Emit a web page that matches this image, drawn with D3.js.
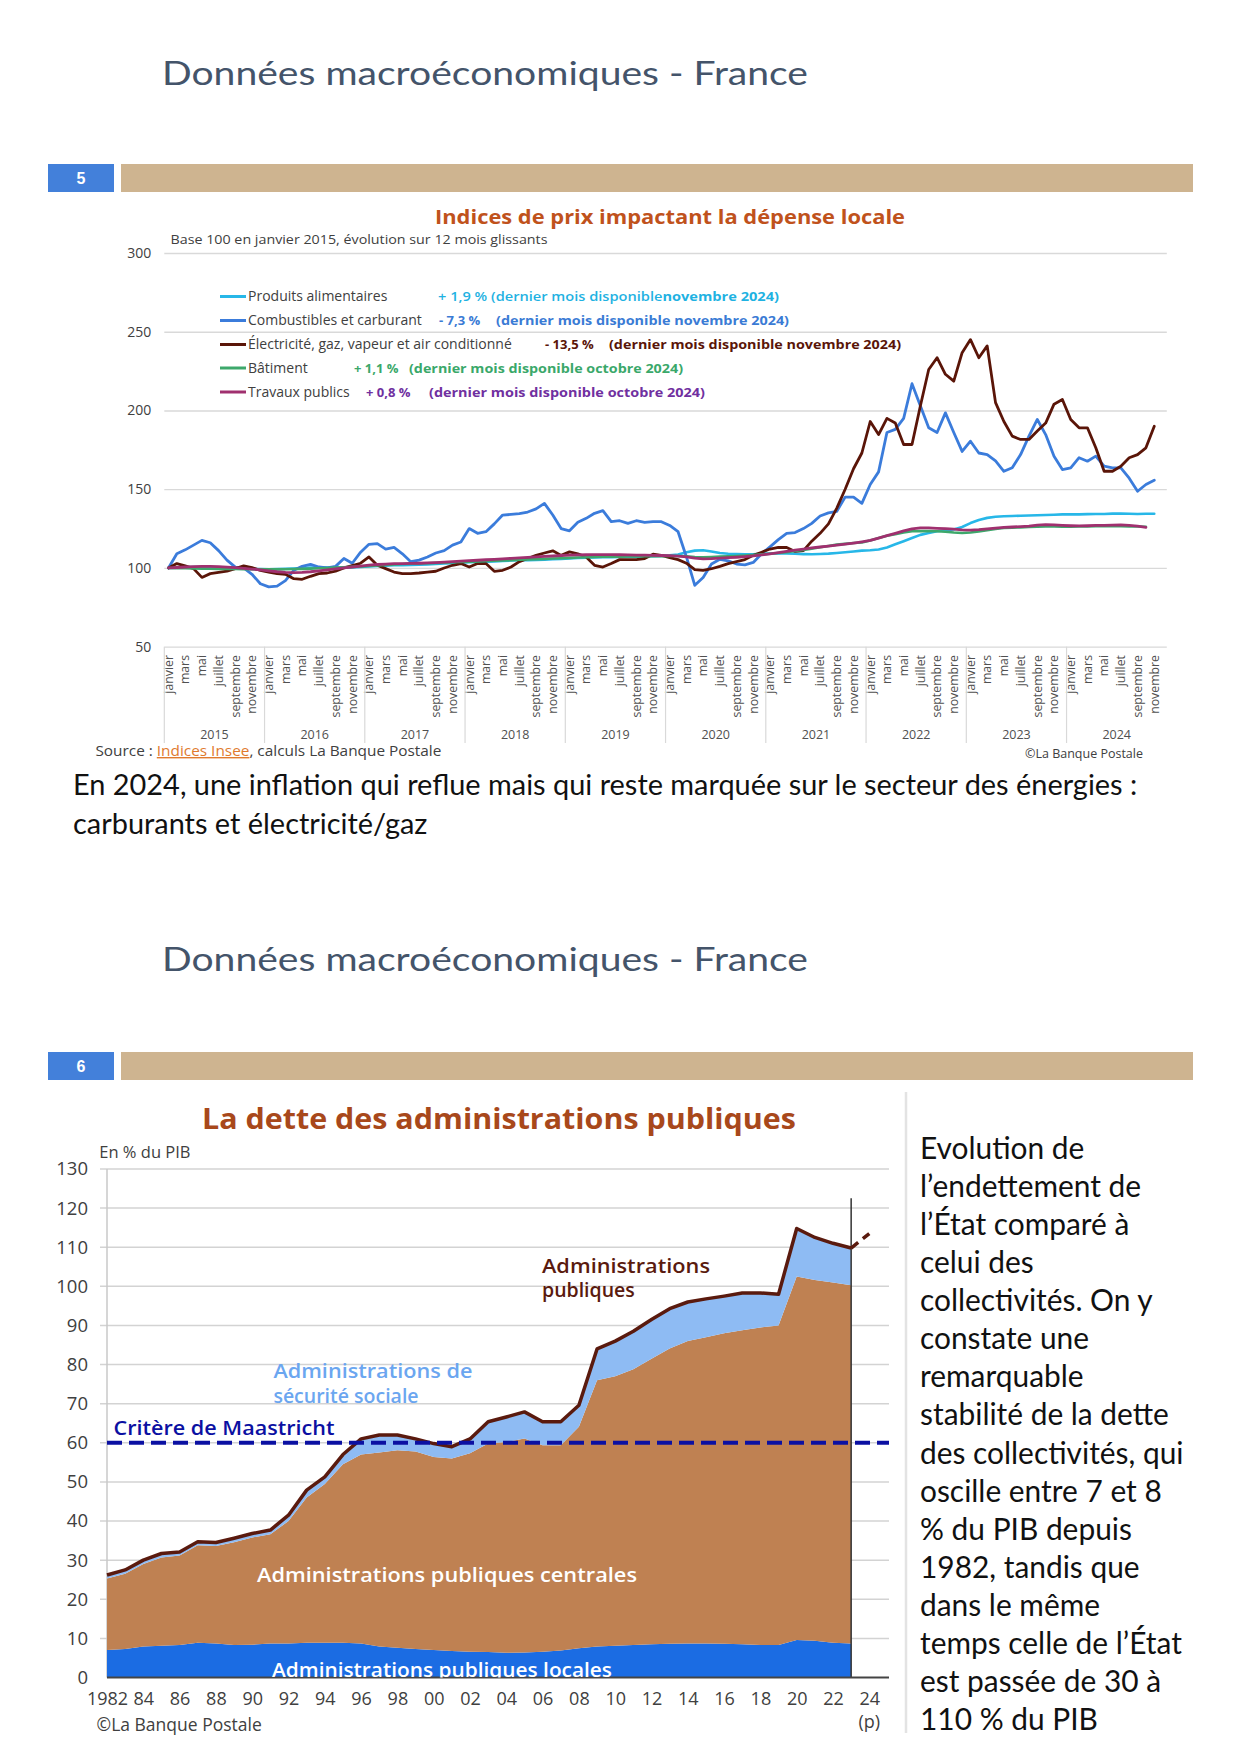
<!DOCTYPE html>
<html><head><meta charset="utf-8">
<script src="https://cdn.jsdelivr.net/npm/d3@7"></script>
<style>
html,body{margin:0;padding:0;background:#fff;}
svg{display:block;}
</style></head><body>
<svg id="page" width="1240" height="1754"></svg>
<script>
// ---------------- DATA : chart 1 (monthly indices, base 100 = janvier 2015) ----------------
const monthNames = ['janvier','février','mars','avril','mai','juin','juillet','août','septembre','octobre','novembre','décembre'];
const years1 = [2015,2016,2017,2018,2019,2020,2021,2022,2023,2024];
const yTicks1 = [50,100,150,200,250,300];

const produitsAlimentaires = [
  100,100.2,100.4,100.5,100.5,100.3,100,99.8,99.6,99.5,99.4,99.3,
  99.2,99.3,99.5,99.7,100,100.2,100.3,100.2,100.1,100.2,100.4,100.7,
  101,101.3,101.5,101.7,101.8,101.9,102,102.2,102.5,102.8,103,103.3,
  103.6,103.8,104,104.2,104.5,104.7,104.9,105,105.1,105.3,105.5,105.7,
  106,106.3,106.5,106.6,106.8,106.9,107,107.1,107.2,107.3,107.5,107.7,
  108,108.5,110,111,111.2,110.5,109.5,109,108.8,108.6,108.7,109,
  109.2,109.3,109.2,109,108.8,108.7,108.9,109.1,109.5,110,110.5,111,
  111.2,111.7,113,115,117,119,121,122.2,123.3,124,124.4,126,
  128.5,130.5,131.8,132.5,132.8,133,133.2,133.3,133.5,133.6,133.8,134,
  134,134,134.2,134.3,134.3,134.5,134.6,134.4,134.3,134.4,134.4
];
const combustibles = [
  100,109,111.5,114.5,117.5,116,111,105,100.5,100,96,90,
  88,88.5,92,98.5,101,102.3,100.6,100,101,106,103,110,
  115,115.5,112,113,109,104,105,107,109.5,111,114.5,116.5,
  125,122,123,128,133.6,134,134.5,135.5,137.5,141,133.6,125,
  123.6,129,131.5,134.7,136.4,129.4,130,128.3,130,129,129.4,129.4,
  127,123,107,89,94,102.5,105.5,104.5,102.5,102,103.5,109,
  113.4,118,122,122.5,125,128.3,133,135,136,145,145,141,
  153,161,186,188,195,217,203,189,186,198.5,186,174,
  180.5,173,172,168,161.4,163.6,172,183.7,194.3,184.7,171,162.5,
  163.6,170,167.8,171,164.6,163.6,163.6,157,148.7,153,155.7
];
const electricite = [
  100,102.8,101.3,99.6,94,96.4,97.2,98,99.6,101.3,100.2,98.5,
  97.4,96.4,96,93.2,92.8,94.7,96.4,96.8,98,100,101.5,103,
  107,101.7,99.6,97.4,96.4,96.4,96.8,97.4,97.9,100,101.7,102.8,
  100.6,102.8,102.8,97.9,98.5,100.6,104,106,108,109.5,110.9,108,
  110.2,109,107,101.7,100.6,102.8,105.3,105.3,105.3,106,108.7,108,
  106.5,105.3,103,99,98.5,99.5,101,102.8,104,105.3,108,110,
  112,113,113,110.5,111,117,122,128,138,150,163,173,
  193,184.7,195,192,178.4,178.4,202.8,226,233.5,223,218.6,236.7,
  245,233.5,241,205,193,183.7,181.6,181.6,187,192,204,207,
  194.3,189,189,176.3,161.4,161.4,164.6,170,172,176.3,190
];
const batiment = [
  100,99.9,99.8,99.7,99.6,99.5,99.4,99.3,99.3,99.2,99.2,99.1,
  99.1,99.1,99.2,99.3,99.4,99.6,99.8,100,100.2,100.4,100.7,101,
  101.3,101.6,101.9,102.2,102.5,102.7,102.9,103,103.2,103.4,103.6,103.8,
  104,104.2,104.4,104.6,104.8,105,105.2,105.4,105.6,105.8,106,106.2,
  106.4,106.6,106.8,107,107.1,107.2,107.2,107.3,107.3,107.4,107.4,107.5,
  107.6,107.6,107.4,107,106.8,107,107.2,107.4,107.6,107.9,108.2,108.6,
  109,109.5,110,110.8,111.5,112.3,113.2,114,114.8,115.3,115.8,116.2,
  117.5,119,120.5,121.5,122.5,123.3,123.5,123.4,123.3,123,122.5,122.2,
  122.5,123.2,124,124.8,125.4,125.6,125.8,126,126.2,126.3,126.3,126.2,
  126.2,126.3,126.4,126.5,126.5,126.5,126.5,126.4,126.3,126.2
];
const travauxPublics = [
  100,100.3,100.6,100.8,101,101,100.8,100.5,100.2,99.8,99.3,98.8,
  98.2,97.6,97.2,97,97.2,97.6,98.2,98.8,99.4,100,100.6,101.2,
  101.8,102.2,102.5,102.7,102.8,102.9,103,103.2,103.4,103.7,104,104.3,
  104.6,104.9,105.2,105.5,105.8,106.1,106.4,106.7,107,107.3,107.6,107.9,
  108.1,108.3,108.4,108.5,108.5,108.5,108.4,108.3,108.2,108.1,108,107.9,
  107.8,107.5,107,106.2,105.8,105.9,106.2,106.5,106.8,107.2,107.7,108.3,
  109,109.8,110.6,111.3,112,112.7,113.3,113.9,114.5,115.1,115.8,116.6,
  117.5,119,120.5,122,123.5,124.8,125.4,125.4,125.2,125,124.6,124.2,
  124,124.3,124.8,125.3,125.8,126,126.3,126.6,127.2,127.5,127.3,127,
  126.8,126.7,126.8,127,127.1,127.2,127.3,127.1,126.5,125.8
];
const legendLabels = ['Produits alimentaires','Combustibles et carburant','Électricité, gaz, vapeur et air conditionné','Bâtiment','Travaux publics'];
const legendPct = ['+ 1,9 %','- 7,3 %','- 13,5 %','+ 1,1 %','+ 0,8 %'];
const legendNote = ['(dernier mois disponible','(dernier mois disponible novembre 2024)','(dernier mois disponible novembre 2024)','(dernier mois disponible octobre 2024)','(dernier mois disponible octobre 2024)'];

// ---------------- DATA : chart 2 (dette en % du PIB) ----------------
const years2 = [1982,1983,1984,1985,1986,1987,1988,1989,1990,1991,1992,1993,1994,1995,1996,1997,1998,1999,2000,2001,2002,2003,2004,2005,2006,2007,2008,2009,2010,2011,2012,2013,2014,2015,2016,2017,2018,2019,2020,2021,2022,2023];
const apuLocales = [7.0,7.3,7.9,8.1,8.3,8.9,8.7,8.3,8.4,8.7,8.7,8.9,8.9,8.9,8.7,7.9,7.6,7.3,7.0,6.8,6.6,6.5,6.3,6.4,6.6,6.9,7.5,7.9,8.1,8.3,8.5,8.6,8.7,8.7,8.6,8.5,8.3,8.3,9.6,9.4,8.9,8.7];
const apuCentrales = [18.3,19.2,21.1,22.6,22.9,24.9,24.9,26.3,27.4,27.9,31.3,37.1,40.6,45.6,48.3,49.6,50.5,50.5,49.4,49.2,50.7,53.3,53.9,54.7,52.8,52.5,56.6,68.1,68.9,70.5,73.0,75.5,77.3,78.3,79.4,80.3,81.2,81.7,92.9,92.2,92.1,91.6];
const securiteSociale = [0.9,1.0,1.0,1.0,0.9,0.9,0.9,1.0,1.0,1.1,1.5,1.9,1.8,2.5,4.0,4.5,3.9,3.2,3.4,3.0,3.7,5.6,6.4,6.8,6.0,6.0,5.5,8.0,9.0,9.7,10.0,10.2,10.0,9.8,9.5,9.5,8.8,8.0,12.3,10.9,10.0,9.5];
const projectionYears = [2023,2024];
const projection2024 = 113.5;
const maastricht = 60;
const yTicks2 = [0,10,20,30,40,50,60,70,80,90,100,110,120,130];
const xTicks2 = [1982,1984,1986,1988,1990,1992,1994,1996,1998,2000,2002,2004,2006,2008,2010,2012,2014,2016,2018,2020,2022,2024];

const paragraph1 = ['En 2024, une inflation qui reflue mais qui reste marquée sur le secteur des énergies :','carburants et électricité/gaz'];
const paragraph2 = ['Evolution de','l’endettement de','l’État comparé à','celui des','collectivités. On y','constate une','remarquable','stabilité de la dette','des collectivités, qui','oscille entre 7 et 8','% du PIB depuis','1982, tandis que','dans le même','temps celle de l’État','est passée de 30 à','110 % du PIB'];

// ---------------- STYLES ----------------
const FUT = "Lato, 'Noto Sans', sans-serif";
const MON = "'Open Sans', 'Noto Sans', sans-serif";
const lineColors = ['#27B7E8','#3B7CDB','#5A1508','#3DA86B','#A0306F'];
const noteColors = ['#1FB2E2','#3A7BD5','#5A1508','#3AA86A','#7030A0'];

const svg = d3.select('#page');
function fitW(sel, w){ return sel.attr('textLength', w).attr('lengthAdjust','spacingAndGlyphs'); }

// ---------------- page headers ----------------
[{base:85, num:'5', by:164},{base:971, num:'6', by:1052}].forEach(h=>{
  fitW(svg.append('text').attr('x',162).attr('y',h.base).attr('font-family',FUT).attr('font-size',32)
    .attr('fill','#44546A').text('Données macroéconomiques - France'), 646);
  svg.append('rect').attr('x',48).attr('y',h.by).attr('width',66).attr('height',28).attr('fill','#4380DA');
  svg.append('text').attr('x',81).attr('y',h.by+20).attr('text-anchor','middle').attr('font-family',"'Liberation Sans', Arial, sans-serif")
    .attr('font-weight','bold').attr('font-size',16).attr('fill','#fff').text(h.num);
  svg.append('rect').attr('x',121).attr('y',h.by).attr('width',1072).attr('height',28).attr('fill','#CEB490');
});

// ---------------- CHART 1 ----------------
const x1 = d3.scaleBand().domain(d3.range(years1.length*12)).range([164.3,1166.8]).paddingInner(0);
const y1 = d3.scaleLinear().domain([50,300]).range([646.7,253]);
const g1 = svg.append('g');

fitW(g1.append('text').attr('x',435).attr('y',223.5).attr('font-family',MON).attr('font-weight',700).attr('font-size',20)
  .attr('fill','#C0521C').text('Indices de prix impactant la dépense locale'), 470);
fitW(g1.append('text').attr('x',170.5).attr('y',244).attr('font-family',MON).attr('font-size',13.5)
  .attr('fill','#404040').text('Base 100 en janvier 2015, évolution sur 12 mois glissants'), 377);

const ax1 = g1.append('g').attr('transform','translate(164.3,0)')
  .call(d3.axisLeft(y1).tickValues(yTicks1).tickSize(-(1166.8-164.3)).tickPadding(13));
ax1.select('.domain').remove();
ax1.selectAll('.tick line').attr('stroke','#D9D9D9').attr('stroke-width',1.3);
ax1.selectAll('.tick text').attr('font-family',MON).attr('font-size',14).attr('fill','#404040');

// month labels
const monthIdx = x1.domain().filter(i => i%2===0);
g1.selectAll('.mlab').data(monthIdx).enter().append('text')
  .attr('transform', i => `translate(${x1(i)+x1.bandwidth()/2},655) rotate(-90)`)
  .attr('dy','0.35em').attr('text-anchor','end').attr('font-family',MON).attr('font-size',12.3)
  .attr('fill','#505050').text(i => monthNames[i%12]);
// year separators and labels
g1.selectAll('.ysep').data(years1).enter().append('line')
  .attr('x1',(d,k)=>x1(k*12)).attr('x2',(d,k)=>x1(k*12)).attr('y1',646.7).attr('y2',743)
  .attr('stroke','#D9D9D9').attr('stroke-width',1.2);
g1.selectAll('.ylab').data(years1).enter().append('text')
  .attr('x',(d,k)=>x1(k*12)+x1.bandwidth()*6).attr('y',739).attr('text-anchor','middle')
  .attr('font-family',MON).attr('font-size',12.5).attr('fill','#505050').text(d=>d);

// series
const series1 = [produitsAlimentaires, combustibles, electricite, batiment, travauxPublics];
const widths1 = [2.6,2.8,2.8,2.6,2.8];
const line1 = d3.line().x((d,i)=>x1(i)+x1.bandwidth()/2).y(d=>y1(d));
series1.forEach((s,k)=>{
  g1.append('path').attr('d',line1(s)).attr('fill','none').attr('stroke',lineColors[k])
    .attr('stroke-width',widths1[k]).attr('stroke-linejoin','round').attr('stroke-linecap','round');
});

// legend
const rowY = [296.5,320.5,344.5,368,392];
const pctX = [438,439,545,354,366];
const noteX = [null,496,609,409,429];
const noteW = [341,293,292,274,276];
legendLabels.forEach((lab,k)=>{
  const y = rowY[k];
  g1.append('line').attr('x1',220).attr('x2',246).attr('y1',y).attr('y2',y).attr('stroke',lineColors[k]).attr('stroke-width',3);
  g1.append('text').attr('x',248).attr('y',y+4.8).attr('font-family',MON).attr('font-size',14).attr('fill','#404040').text(lab);
  if(k===0){
    const t = g1.append('text').attr('x',pctX[0]).attr('y',y+4.8).attr('font-family',MON).attr('font-size',13)
      .attr('font-weight',700).attr('fill',noteColors[0]);
    t.append('tspan').attr('font-weight',600).text(legendPct[0]+' '+legendNote[0]);
    t.append('tspan').text('novembre 2024)');
    fitW(t, noteW[0]);
  } else {
    g1.append('text').attr('x',pctX[k]).attr('y',y+4.8).attr('font-family',MON).attr('font-size',13)
      .attr('font-weight',700).attr('fill',noteColors[k]).text(legendPct[k]);
    fitW(g1.append('text').attr('x',noteX[k]).attr('y',y+4.8).attr('font-family',MON).attr('font-size',13)
      .attr('font-weight',700).attr('fill',noteColors[k]).text(legendNote[k]), noteW[k]);
  }
});

// source
const src = g1.append('text').attr('x',95.4).attr('y',756).attr('font-family',MON).attr('font-size',14).attr('fill','#404040');
src.append('tspan').text('Source : ');
src.append('tspan').attr('fill','#E07A2E').attr('text-decoration','underline').text('Indices Insee');
src.append('tspan').text(', calculs La Banque Postale');
fitW(src, 346);
g1.append('text').attr('x',1143).attr('y',758).attr('text-anchor','end').attr('font-family',MON).attr('font-size',12.5)
  .attr('fill','#404040').text('©La Banque Postale');

// paragraph 1
const p1 = svg.append('g');
const p1a = p1.append('text').attr('x',73).attr('y',795).attr('font-family',FUT).attr('font-size',26).attr('fill','#111').text(paragraph1[0]);
const nat = p1a.node().getComputedTextLength();
const fs1 = 26*1065/nat;
p1a.attr('font-size',fs1);
p1.append('text').attr('x',73).attr('y',834).attr('font-family',FUT).attr('font-size',fs1).attr('fill','#111').text(paragraph1[1]);

// ---------------- CHART 2 ----------------
const x2 = d3.scaleLinear().domain([1982,2024]).range([107,869.3]);
const y2 = d3.scaleLinear().domain([0,130]).range([1677.5,1169]);
const g2 = svg.append('g');

fitW(g2.append('text').attr('x',202).attr('y',1129).attr('font-family',MON).attr('font-weight',700).attr('font-size',28)
  .attr('fill','#A8481B').text('La dette des administrations publiques'), 594);
g2.append('text').attr('x',99.3).attr('y',1158).attr('font-family',MON).attr('font-size',16.5).attr('fill','#404040').text('En % du PIB');

// gridlines
g2.selectAll('.grid2').data(yTicks2.filter(v=>v>0)).enter().append('line')
  .attr('x1',100).attr('x2',889).attr('y1',d=>y2(d)).attr('y2',d=>y2(d)).attr('stroke','#D3D3D3').attr('stroke-width',1.5);
g2.append('line').attr('x1',107).attr('x2',107).attr('y1',y2(130)).attr('y2',y2(0)).attr('stroke','#C8C8C8').attr('stroke-width',1.5);

const ay2 = g2.append('g').attr('transform','translate(107,0)').call(d3.axisLeft(y2).tickValues(yTicks2).tickSize(0).tickPadding(19));
ay2.select('.domain').remove();
ay2.selectAll('text').attr('font-family',MON).attr('font-size',18.5).attr('fill','#404040');

// stacked areas
const table2 = years2.map((yr,i)=>({year:yr, locales:apuLocales[i], centrales:apuCentrales[i], secu:securiteSociale[i]}));
const stacked = d3.stack().keys(['locales','centrales','secu'])(table2);
const areaCols = ['#1B6CE3','#BF8152','#8EBBF3'];
const area2 = d3.area().x(d=>x2(d.data.year)).y0(d=>y2(d[0])).y1(d=>y2(d[1]));
stacked.forEach((s,k)=>{
  g2.append('path').attr('d',area2(s)).attr('fill',areaCols[k]);
});

// vertical line 2023
g2.append('line').attr('x1',x2(2023)).attr('x2',x2(2023)).attr('y1',y2(122.5)).attr('y2',y2(0)).attr('stroke','#333').attr('stroke-width',1.5);

// total line
const topLayer = stacked[2];
const totalLine = d3.line().x(d=>x2(d.data.year)).y(d=>y2(d[1]));
g2.append('path').attr('d',totalLine(topLayer)).attr('fill','none').attr('stroke','#5A1A0E').attr('stroke-width',3.5).attr('stroke-linejoin','round');
const lastTotal = topLayer[topLayer.length-1][1];
const projLine = d3.line().x(d=>x2(d[0])).y(d=>y2(d[1]));
g2.append('path').attr('d',projLine([[projectionYears[0],lastTotal],[projectionYears[1],projection2024]]))
  .attr('fill','none').attr('stroke','#5A1A0E').attr('stroke-width',3.5).attr('stroke-dasharray','9,6');

// Maastricht
g2.append('line').attr('x1',107).attr('x2',889).attr('y1',y2(maastricht)).attr('y2',y2(maastricht))
  .attr('stroke','#0B10A2').attr('stroke-width',4).attr('stroke-dasharray','15,7');

// x axis
const ax2 = g2.append('g').attr('transform',`translate(0,${y2(0)})`)
  .call(d3.axisBottom(x2).tickValues(xTicks2).tickSize(0).tickPadding(15)
    .tickFormat(d => d===1982 ? '1982' : String(d%100).padStart(2,'0')));
ax2.select('.domain').remove();
ax2.selectAll('text').attr('font-family',MON).attr('font-size',18).attr('fill','#404040');
g2.append('line').attr('x1',107).attr('x2',889).attr('y1',y2(0)).attr('y2',y2(0)).attr('stroke','#444').attr('stroke-width',2);
g2.append('text').attr('x',x2(2024)).attr('y',1728).attr('text-anchor','middle').attr('font-family',MON).attr('font-size',18).attr('fill','#404040').text('(p)');
g2.append('text').attr('x',96.6).attr('y',1731).attr('font-family',MON).attr('font-size',17.5).attr('fill','#404040').text('©La Banque Postale');

// in-chart labels
svg.append('clipPath').attr('id','plotclip').append('rect').attr('x',100).attr('y',1100).attr('width',800).attr('height',577.5);
function lab(x,y,txt,col,w,clip){
  const t = g2.append('text').attr('x',x).attr('y',y).attr('font-family',MON).attr('font-weight',600).attr('font-size',19.5).attr('fill',col).text(txt);
  if(clip) t.attr('clip-path','url(#plotclip)');
  if(w) fitW(t,w);
  return t;
}
lab(542,1273,'Administrations','#5A1A0E',168);
lab(542,1297,'publiques','#5A1A0E');
lab(273.4,1378,'Administrations de','#6BA6F0',199);
lab(273.4,1403,'sécurité sociale','#6BA6F0');
lab(113.5,1435,'Critère de Maastricht','#0B10A2',221);
lab(257,1582,'Administrations publiques centrales','#FFFFFF',380);
lab(272,1677,'Administrations publiques locales','#FFFFFF',340,true);

// separator + paragraph 2
svg.append('line').attr('x1',906).attr('x2',906).attr('y1',1092).attr('y2',1733).attr('stroke','#E3E3E3').attr('stroke-width',2.5);
const p2 = svg.append('g');
const probe = p2.append('text').attr('font-family',FUT).attr('font-size',26).text(paragraph2[7]);
const fs2 = 26*249/probe.node().getComputedTextLength();
probe.remove();
p2.selectAll('text').data(paragraph2).enter().append('text')
  .attr('x',920).attr('y',(d,i)=>1159+i*38.07).attr('font-family',FUT).attr('font-size',fs2).attr('fill','#111').text(d=>d);
</script></body></html>
